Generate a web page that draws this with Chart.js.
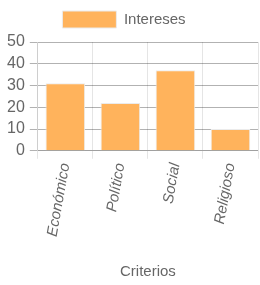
<!DOCTYPE html>
<html><head><meta charset="utf-8">
<script src="https://cdn.jsdelivr.net/npm/chart.js@4"></script>
<style>html,body{margin:0;padding:0;background:#fff}#w{width:260px;height:285px}</style>
</head><body><div id="w"><canvas id="c"></canvas></div>
<script>
const categories = ['Económico', 'Político', 'Social', 'Religioso'];
const intereses = [31, 22, 37, 10];
const seriesName = 'Intereses';
const axisTitle = 'Criterios';

Chart.defaults.font.family = '"Liberation Sans", Arial, sans-serif';
Chart.defaults.color = '#666';
const legendPad = {
  id: 'legendPad',
  beforeUpdate(chart) {
    const l = chart.legend;
    if (l && !l._padded) {
      const f = l.fit.bind(l);
      l.fit = function () { f(); this.height += 4; if (this.lineWidths) this.lineWidths[0] += 12; };
      l._padded = true;
    }
  }
};
new Chart(document.getElementById('c'), {
  type: 'bar',
  data: { labels: categories, datasets: [{ label: seriesName, data: intereses,
    backgroundColor: '#FFB35C', borderColor: 'rgba(235,235,235,1)', borderWidth: 1 }] },
  options: {
    responsive: true, maintainAspectRatio: false, animation: false,
    layout: { padding: { left: 2, right: 2 } },
    plugins: { legend: { labels: { boxWidth: 54, boxHeight: 17, padding: 11, font: { size: 15 } } }, tooltip: { enabled: false } },
    scales: {
      x: { grid: { color: 'rgba(0,0,0,0.1)' },
        ticks: { autoSkip: false, minRotation: 80, maxRotation: 80, padding: 3, font: { size: 15, style: 'italic' } },
        title: { display: true, text: axisTitle, font: { size: 15 }, padding: { top: 22 } } },
      y: { min: 0, max: 50, grid: { color: 'rgba(0,0,0,0.3)' },
        ticks: { autoSkip: false, stepSize: 10, padding: 5, font: { size: 16 } } }
    }
  },
  plugins: [legendPad]
});
</script></body></html>
